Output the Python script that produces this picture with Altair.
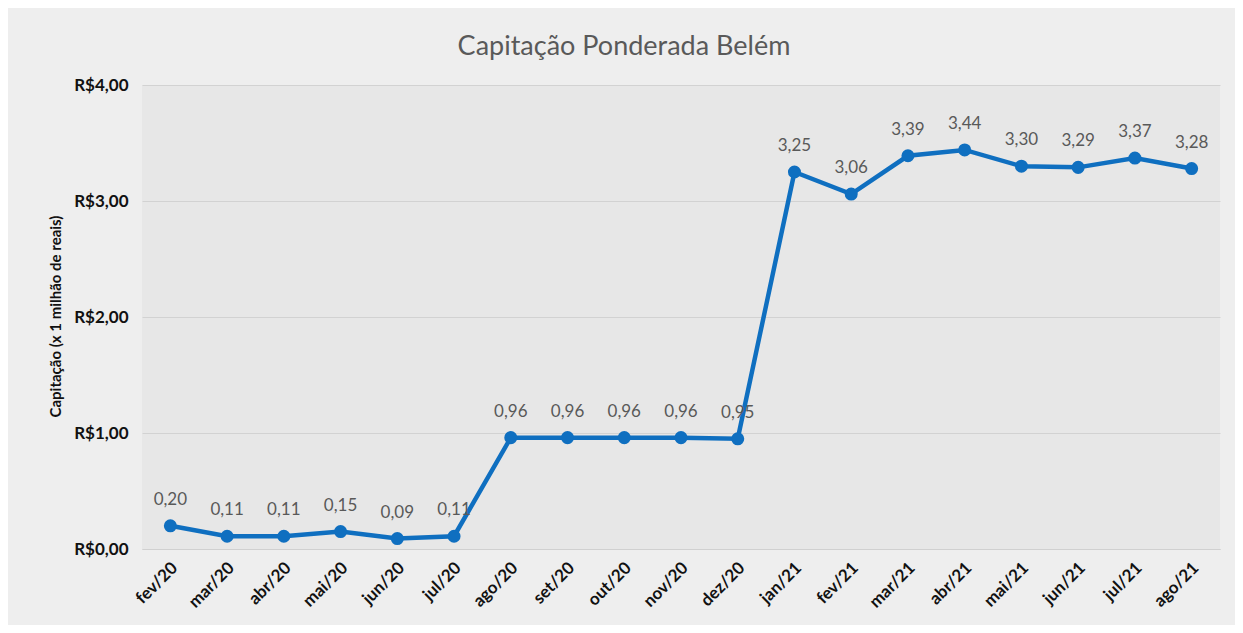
import altair as alt
import pandas as pd

months = ["fev/20", "mar/20", "abr/20", "mai/20", "jun/20", "jul/20", "ago/20", "set/20",
          "out/20", "nov/20", "dez/20", "jan/21", "fev/21", "mar/21", "abr/21", "mai/21",
          "jun/21", "jul/21", "ago/21"]
values = [0.20, 0.11, 0.11, 0.15, 0.09, 0.11, 0.96, 0.96, 0.96, 0.96, 0.95,
          3.25, 3.06, 3.39, 3.44, 3.30, 3.29, 3.37, 3.28]
y_ticks = [0, 1, 2, 3, 4]

df = pd.DataFrame({
    "mes": months,
    "valor": values,
    "rotulo": [f"{v:.2f}".replace(".", ",") for v in values],
})

FONT = "Lato"
BLUE = "#0f6fc0"

x_enc = alt.X("mes:N", sort=months, title=None,
              axis=alt.Axis(labelAngle=-45, labelFontWeight="bold", labelFontSize=17,
                            labelColor="#111111", labelFont=FONT, ticks=False, domain=True,
                            domainColor="#d0d0d0", labelPadding=16, labelAlign="right",
                            labelBaseline="middle", labelOffset=4))
y_enc = alt.Y("valor:Q", scale=alt.Scale(domain=[0, 4], nice=False),
              title="Capitação (x 1 milhão de reais)",
              axis=alt.Axis(values=y_ticks,
                            labelExpr="'R$' + replace(format(datum.value, '.2f'), '.', ',')",
                            labelFontWeight="bold", labelFontSize=17, labelColor="#111111",
                            labelFont=FONT, ticks=False, domain=False, labelPadding=14,
                            gridColor="#d2d2d2", titleFont=FONT, titleFontSize=15,
                            titleFontWeight="bold", titleColor="#111111",
                            titleX=-87, titleY=231, titleAngle=-90, titleAlign="center",
                            titleBaseline="middle"))

base = alt.Chart(df).encode(x=x_enc, y=y_enc)

line = base.mark_line(color=BLUE, strokeWidth=4.5)
pts = base.mark_circle(color=BLUE, size=170, opacity=1)
txt = base.mark_text(dy=-26, fontSize=17, font=FONT, color="#595959").encode(text="rotulo:N")

chart = (line + pts + txt).properties(
    width=1078, height=464,
    title=alt.TitleParams("Capitação Ponderada  Belém", font=FONT, fontSize=27,
                          fontWeight="normal", color="#595959", anchor="middle",
                          dx=-57, offset=15),
    background="#eeeeee",
    padding={"left": 134, "top": 77, "right": 15, "bottom": 76},
    autosize=alt.AutoSizeParams(type="none"),
).configure_view(fill="#e7e7e7", stroke=None)

chart.save("out.html", embed_options={"renderer": "svg", "actions": False})
